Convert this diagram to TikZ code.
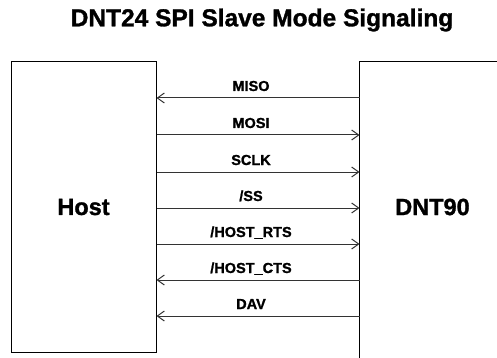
\documentclass[tikz,border=0pt]{standalone}
\usepackage{fontspec}
\setmainfont{Liberation Sans}[BoldFeatures={FakeBold=1.2}]
\usepackage{tikz}
\usetikzlibrary{arrows.meta,positioning}
\definecolor{dgray}{HTML}{333333}

\begin{document}
\begin{tikzpicture}[x=1pt,y=-1pt,>={Straight Barb[length=7pt,width=10pt]},
                    box/.style={draw=black,line width=1pt,minimum width=145pt,
                                minimum height=290pt,inner sep=0pt,
                                font=\fontsize{23.5}{26}\selectfont\bfseries},
                    signal/.style={draw=dgray,line width=1pt},
                    siglabel/.style={anchor=base,inner sep=0pt,
                                font=\fontsize{14.5}{16}\selectfont\bfseries}]
  \coordinate (corner) at (497,358);
  \clip (0,0) rectangle (corner);
  \useasboundingbox (0,0) rectangle (corner);

  \node[font=\fontsize{24.5}{27}\selectfont\bfseries] (title) at (262,20)
        {DNT24 SPI Slave Mode Signaling};
  \node[box] (host) at (83.5,207) {Host};
  \node[box, draw=none, minimum width=145pt] (dnt) at (432.5,207) {DNT90};
  \draw[black, line width=1pt] (dnt.north east) -- (dnt.north west)
        -- (dnt.west |- corner);

  % signal lines between the two boxes
  \foreach \y/\dir/\name in {98/<-/MISO, 135/->/MOSI, 172/->/SCLK,
                             208/->/{/SS}, 244/->/{/HOST\_RTS},
                             280/<-/{/HOST\_CTS}, 316/<-/DAV}{
    \draw[signal,\dir] (host.east |- 0,\y) -- (dnt.west |- 0,\y);
    \node[siglabel] at (251,\y-7) {\name};
  }
\end{tikzpicture}
\end{document}
